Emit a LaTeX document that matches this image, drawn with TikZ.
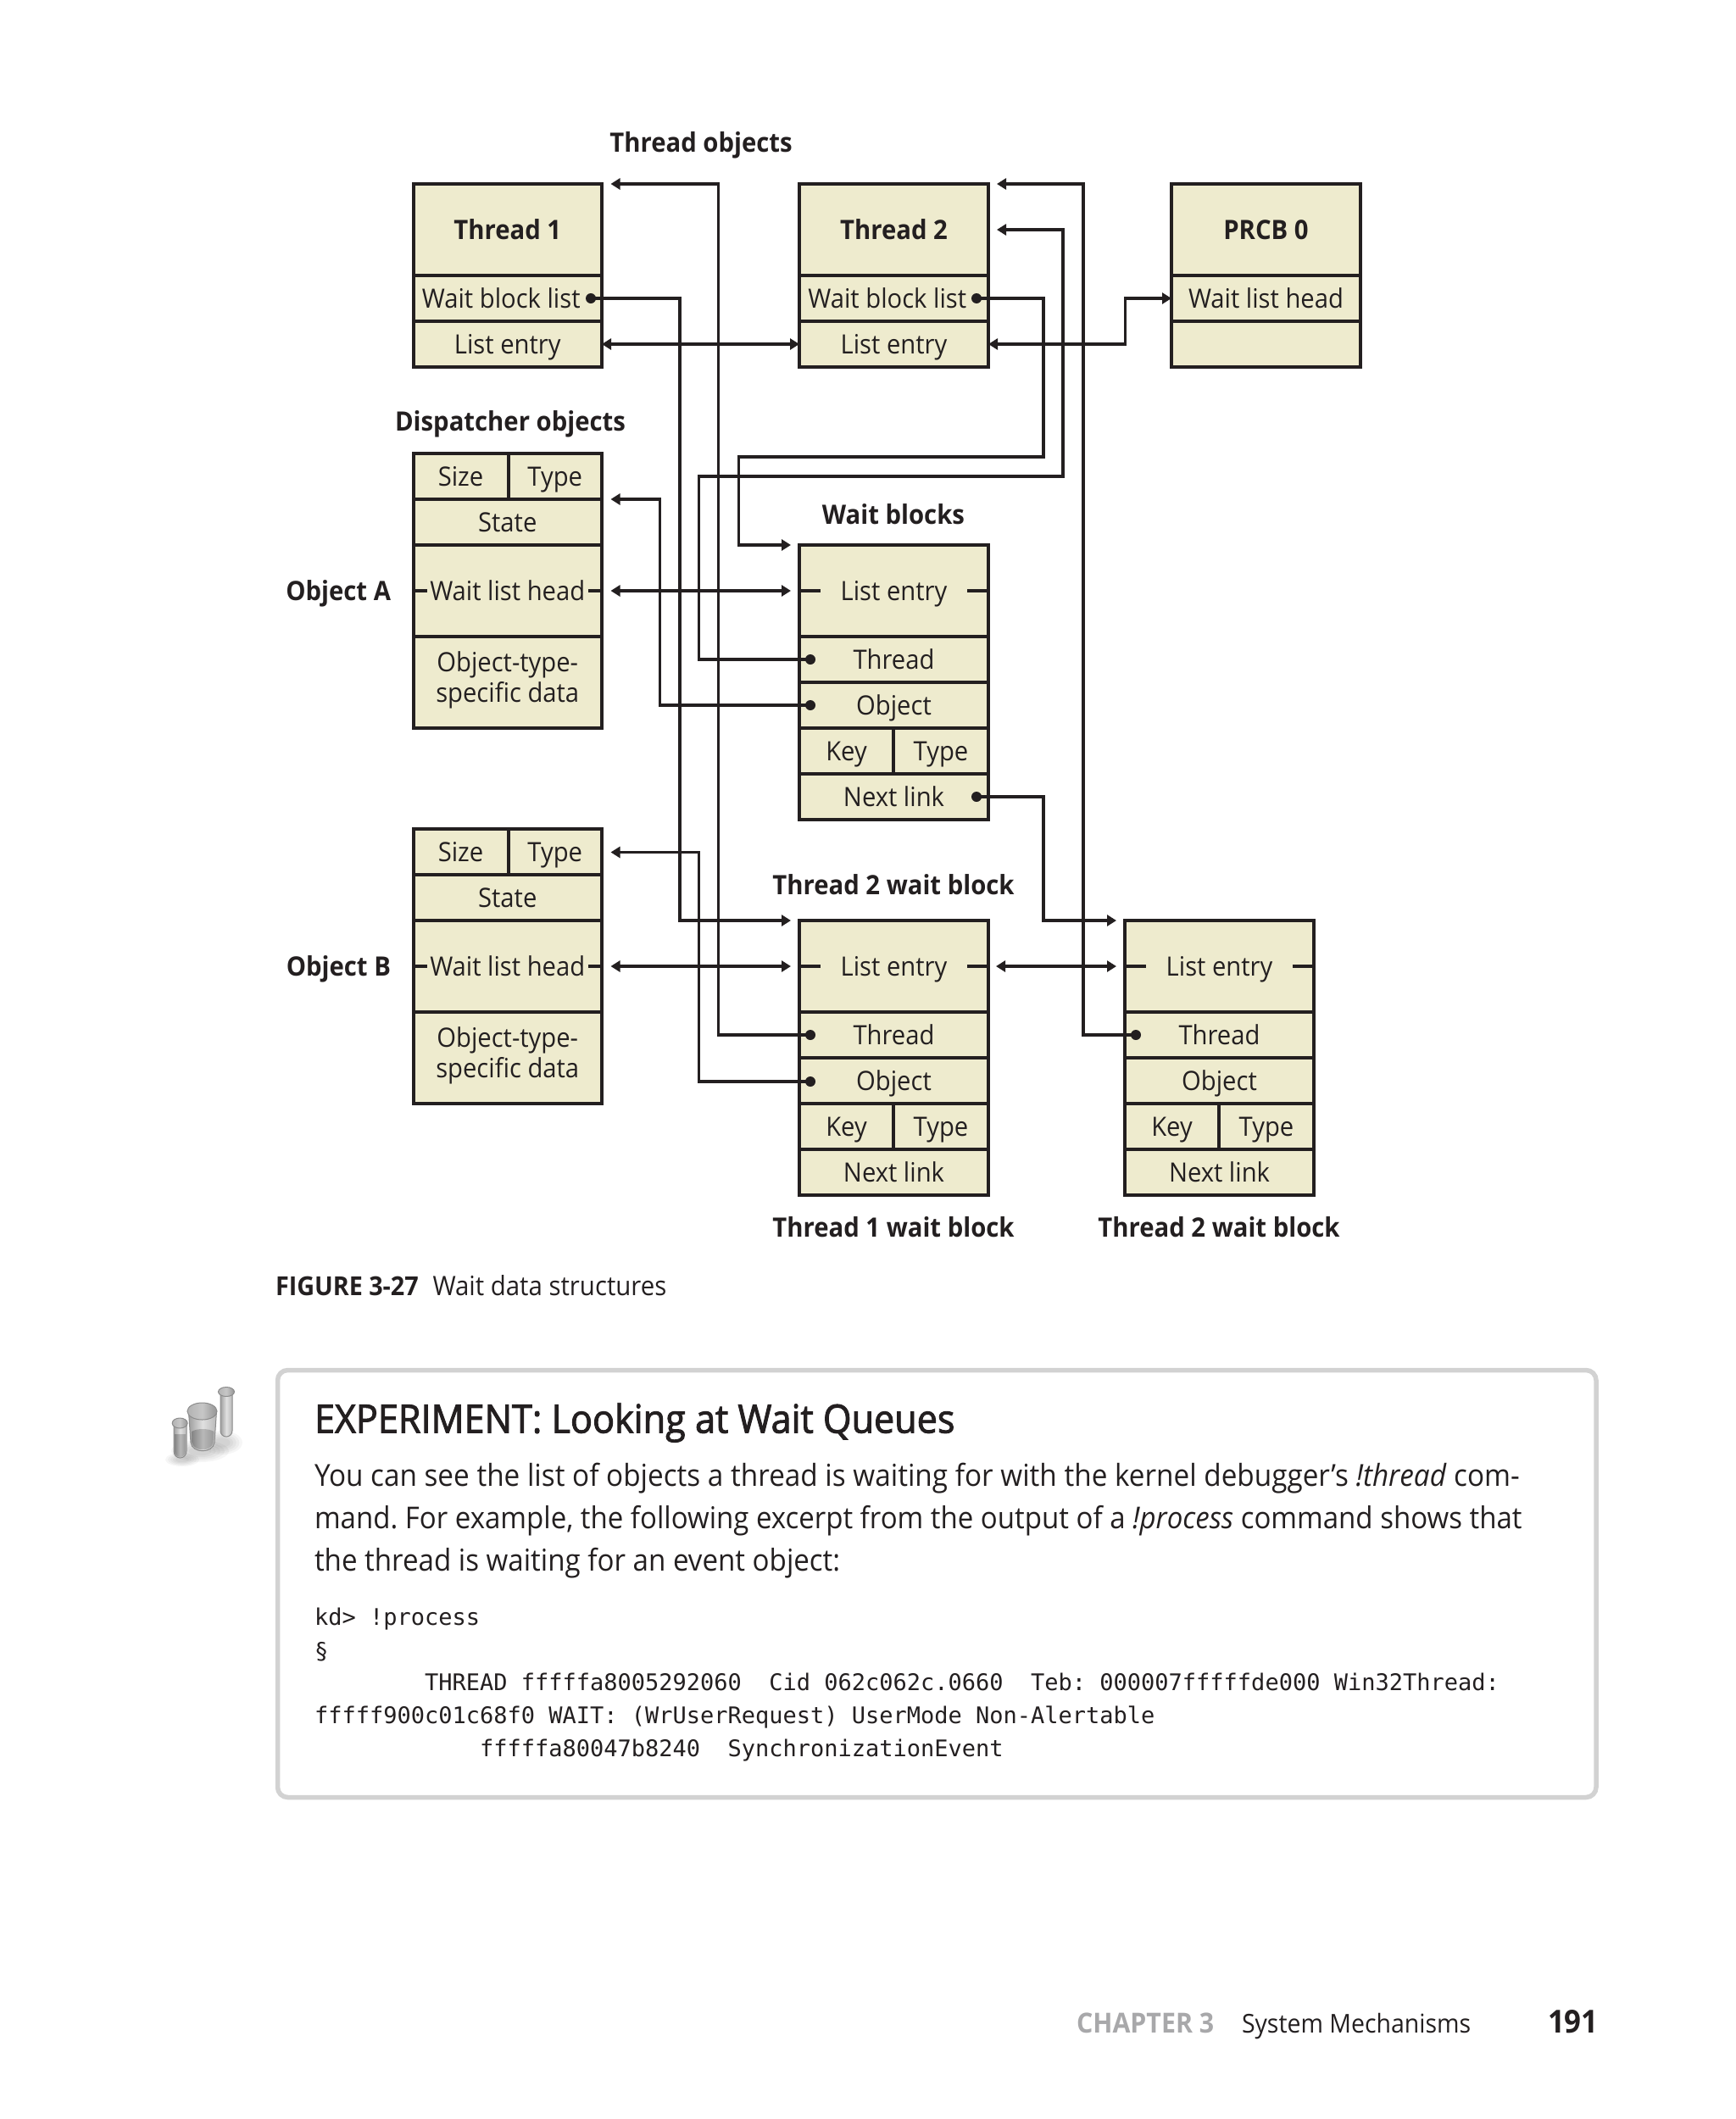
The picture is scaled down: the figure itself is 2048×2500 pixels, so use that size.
\documentclass[tikz,border=0pt]{standalone}
\usepackage{fontspec}
\setmainfont{Open Sans}[FakeStretch=0.93]
\newfontfamily\semifont{Open Sans}[FakeStretch=0.93,FakeBold=2]
\newfontfamily\codefont{DejaVu Sans Mono}
\usetikzlibrary{arrows.meta,calc}
\definecolor{ink}{HTML}{231F20}
\definecolor{cellfill}{HTML}{EEEBCE}
\definecolor{boxgray}{HTML}{D2D2D2}
\definecolor{footgray}{HTML}{A8A8AA}
\tikzset{
  x=0.5pt,y=-0.5pt,
  cellbox/.style={draw=ink,fill=cellfill,line width=2pt,inner sep=0pt,outer sep=0pt,text=ink,
    font=\fontsize{15.7}{18}\selectfont,text height=12.5pt,text depth=1.5pt,align=center},
  cellbold/.style={cellbox,font=\fontsize{15.75}{18}\selectfont\bfseries},
  twoline/.style={cellbox,text height=,text depth=6pt,font=\fontsize{15.7}{18}\selectfont},
  lbl/.style={text=ink,font=\fontsize{15.75}{18}\selectfont\bfseries,inner sep=0pt,outer sep=0pt,text height=12.5pt,text depth=1.5pt},
  plainlbl/.style={anchor=west,text=ink,font=\fontsize{15.7}{18}\selectfont,text height=12.5pt,text depth=1.5pt,inner sep=0pt},
  dotmark/.style={circle,fill=ink,inner sep=0pt,minimum size=6pt,outer sep=0pt},
  conn/.style={draw=ink,line width=1.75pt,line join=miter},
  head/.style={conn,-{Triangle[length=5.5pt,width=6.5pt]}},
  dbl/.style={conn,{Triangle[length=5.5pt,width=6.5pt]}-{Triangle[length=5.5pt,width=6.5pt]}},
  tick/.style={draw=ink,line width=1.75pt},
  txt/.style={text=ink,anchor=base west,inner sep=0pt,outer sep=0pt,execute at begin node=\frenchspacing},
  glass/.style={draw=black!45,line width=0.5pt,left color=black!38,right color=black!28,middle color=black!12},
  liquid/.style={left color=black!48,right color=black!40,middle color=black!28},
  rim/.style={draw=black!45,line width=0.5pt,left color=black!30,right color=black!42,middle color=black!22},
  shadowblob/.style={fill=black,opacity=0.035},
}
\newcommand{\cellat}[7][cellbox]{%
  \pgfmathsetmacro\cw{(#5-#3)*0.5}\pgfmathsetmacro\ch{(#6-#4)*0.5}%
  \node[#1,minimum width=\cw pt,minimum height=\ch pt] (#2) at ({(#3+#5)/2},{(#4+#6)/2}) {#7};}
\newcommand{\dispatcher}[3]{% name, x offset, y top
  \pgfmathsetmacro\ya{#3}\pgfmathsetmacro\yb{#3+54}\pgfmathsetmacro\yc{#3+108}\pgfmathsetmacro\yd{#3+216}\pgfmathsetmacro\ye{#3+324}%
  \cellat{#1size}{487.5}{\ya}{599.5}{\yb}{Size}
  \cellat{#1type}{599.5}{\ya}{710}{\yb}{Type}
  \cellat{#1state}{487.5}{\yb}{710}{\yc}{State}
  \cellat{#1wlh}{487.5}{\yc}{710}{\yd}{Wait list head}
  \cellat[twoline]{#1data}{487.5}{\yd}{710}{\ye}{Object-type-\\specific data}
  \draw[tick] (#1wlh.west) -- ++(16,0);
  \draw[tick] (#1wlh.east) -- ++(-16,0);
}
\newcommand{\waitblock}[3]{% name, x left, y top
  \pgfmathsetmacro\xl{#2}\pgfmathsetmacro\xm{#2+111}\pgfmathsetmacro\xr{#2+223}%
  \pgfmathsetmacro\ya{#3}\pgfmathsetmacro\yb{#3+108}\pgfmathsetmacro\yc{#3+162}\pgfmathsetmacro\yd{#3+216}\pgfmathsetmacro\ye{#3+270}\pgfmathsetmacro\yf{#3+324}%
  \cellat{#1le}{\xl}{\ya}{\xr}{\yb}{List entry}
  \cellat{#1thr}{\xl}{\yb}{\xr}{\yc}{Thread}
  \cellat{#1obj}{\xl}{\yc}{\xr}{\yd}{Object}
  \cellat{#1key}{\xl}{\yd}{\xm}{\ye}{Key}
  \cellat{#1typ}{\xm}{\yd}{\xr}{\ye}{Type}
  \cellat{#1nxt}{\xl}{\ye}{\xr}{\yf}{Next link}
  \draw[tick] (#1le.west) -- ++(25,0);
  \draw[tick] (#1le.east) -- ++(-25,0);
}
\begin{document}
\begin{tikzpicture}
\useasboundingbox (0,0) rectangle (2048,2500);
\fill[white] (0,0) rectangle (2048,2500);

% thread objects
\cellat[cellbold]{tonename}{487.5}{217}{710}{325}{Thread 1}
\cellat{tonewbl}{487.5}{325}{710}{379}{}
\cellat{tonele}{487.5}{379}{710}{433}{List entry}
\node[plainlbl] (tonewbltext) at (497.5,352) {Wait block list};
\cellat[cellbold]{ttwoname}{943}{217}{1166}{325}{Thread 2}
\cellat{ttwowbl}{943}{325}{1166}{379}{}
\cellat{ttwole}{943}{379}{1166}{433}{List entry}
\node[plainlbl] (ttwowbltext) at (953,352) {Wait block list};
\cellat[cellbold]{prcbname}{1382}{217}{1605}{325}{PRCB 0}
\cellat{prcbwlh}{1382}{325}{1605}{379}{Wait list head}
\cellat{prcbempty}{1382}{379}{1605}{433}{}

\dispatcher{oa}{0}{535}
\dispatcher{ob}{0}{978}
\waitblock{wa}{943}{643}
\waitblock{wb}{943}{1086}
\waitblock{wc}{1327}{1086}

% labels
\node[lbl] (lbthreads) at (827,168) {Thread objects};
\node[lbl] (lbdisp) at (602,497) {Dispatcher objects};
\node[lbl] (lbwait) at (1054,607) {Wait blocks};
\node[lbl,anchor=east] (lboa) at (461,697) {Object A};
\node[lbl,anchor=east] (lbob) at (461,1140) {Object B};
\node[lbl] (lbtw) at (1054,1044) {Thread 2 wait block};
\node[lbl] (lbw1) at (1054,1448) {Thread 1 wait block};
\node[lbl] (lbw2) at (1438,1448) {Thread 2 wait block};

% dots
\node[dotmark] (dtone) at (697,352) {};
\node[dotmark] (dttwo) at (1152,352) {};
\node[dotmark] (dwathr) at (956,778) {};
\node[dotmark] (dwaobj) at (956,832) {};
\node[dotmark] (dwanxt) at (1152,940) {};
\node[dotmark] (dwbthr) at (956,1221) {};
\node[dotmark] (dwbobj) at (956,1276) {};
\node[dotmark] (dwcthr) at (1340,1221) {};

% free ends
\coordinate (tipone) at (720.5,217);
\coordinate (tiptwotop) at (1176,217);
\coordinate (tiptwomid) at (1176,271);
\coordinate (tipoatype) at (720.5,589);
\coordinate (tipobtype) at (720.5,1005.5);
\coordinate (tipwatop) at (933,643);
\coordinate (tipwbtop) at (933,1086);
\coordinate (tipwctop) at (1317,1086);
\coordinate (tipoawlh) at (720.5,697);
\coordinate (tipwale) at (933,697);
\coordinate (tipobwlh) at (720.5,1140);
\coordinate (tipwble) at (933,1140);
\coordinate (tipwbler) at (1175,1140);
\coordinate (tipwcle) at (1317,1140);
% bends
\coordinate (laneone) at (802,700);
\coordinate (lanetwo) at (847.5,700);
\coordinate (lanethree) at (1278,700);
\coordinate (lanefour) at (1231,539);
\coordinate (lanefive) at (871.5,643);
\coordinate (lanesix) at (824.5,562);
\coordinate (laneseven) at (1254,271);
\coordinate (laneeight) at (778.5,700);
\coordinate (lanenine) at (824.5,1100);
\coordinate (laneten) at (1231,1000);
\coordinate (laneeleven) at (1327.5,400);

% connectors
\draw[head] (dtone.center) -| (laneone) |- (tipwbtop);
\draw[head] (dwbthr.center) -| (lanetwo) |- (tipone);
\draw[head] (dwcthr.center) -| (lanethree) |- (tiptwotop);
\draw[head] (dttwo.center) -| (lanefour) -| (lanefive) -- (tipwatop);
\draw[head] (dwathr.center) -| (lanesix) -| (laneseven) -- (tiptwomid);
\draw[head] (dwaobj.center) -| (laneeight) |- (tipoatype);
\draw[head] (dwbobj.center) -| (lanenine) |- (tipobtype);
\draw[head] (dwanxt.center) -| (laneten) |- (tipwctop);
\draw[dbl] (tonele.east) -- (ttwole.west);
\draw[dbl] (ttwole.east) -| (laneeleven) |- (prcbwlh.west);
\draw[dbl] (tipoawlh) -- (tipwale);
\draw[dbl] (tipobwlh) -- (tipwble);
\draw[dbl] (tipwbler) -- (tipwcle);

% caption
\node[txt,font=\fontsize{15.45}{18}\selectfont\bfseries] (capa) at (325,1528.5) {FIGURE 3-27};
\node[txt,font=\fontsize{15.8}{18}\selectfont] (capb) at (510.5,1528.5) {Wait data structures};

% experiment box
\draw[draw=boxgray,line width=2.75pt,rounded corners=6pt] (327.5,1616.5) rectangle (1883,2120.5);
\node[txt,font=\fontsize{23.2}{26}\selectfont\semifont] (exhead) at (371,1690.5) {EXPERIMENT: Looking at Wait Queues};
\node[txt,font=\fontsize{17.9}{25}\selectfont] (exa) at (371,1753) {You can see the list of objects a thread is waiting for with the kernel debugger’s \textit{!thread} com-};
\node[txt,font=\fontsize{17.75}{25}\selectfont] (exb) at (371,1803) {mand. For example, the following excerpt from the output of a \textit{!process} command shows that};
\node[txt,font=\fontsize{17.8}{25}\selectfont] (exc) at (371,1853) {the thread is waiting for an event object:};
\tikzset{codeline/.style={txt,font=\fontsize{13.5}{16}\selectfont\codefont}}
\node[codeline] (cda) at (371,1917) {kd> !process};
\node[codeline] (cdb) at (371,1957) {§};
\node[codeline] (cdc) at (501,1994.5) {THREAD fffffa8005292060\ \ Cid 062c062c.0660\ \ Teb: 000007fffffde000 Win32Thread:};
\node[codeline] (cdd) at (371,2033.5) {fffff900c01c68f0 WAIT: (WrUserRequest) UserMode Non-Alertable};
\node[codeline] (cde) at (566,2072.5) {fffffa80047b8240\ \ SynchronizationEvent};

% icon
\foreach \s in {1,0.85,0.7,0.55,0.4} {
  \fill[shadowblob] (236,1712) ellipse[x radius=34*\s,y radius=13*\s];
  \fill[shadowblob] (262,1702) ellipse[x radius=24*\s,y radius=14*\s];
  \fill[shadowblob] (215,1722) ellipse[x radius=20*\s,y radius=8*\s];
}
\path[glass] (205,1679) -- (205,1712) arc[start angle=180,end angle=0,x radius=7.5,y radius=8] -- (220,1679) -- cycle;
\path[liquid] (206,1692) -- (206,1712) arc[start angle=180,end angle=0,x radius=6.5,y radius=7] -- (219,1692) -- cycle;
\path[rim] (212.2,1679) ellipse[x radius=9,y radius=6];
\path[glass] (222.5,1665) -- (225,1702) .. controls (227,1715) and (251,1715) .. (253,1702) -- (255.5,1665) -- cycle;
\path[liquid] (226,1689) -- (226.5,1702) .. controls (228,1713) and (250,1713) .. (251.5,1702) -- (252.5,1689) .. controls (246,1685) and (232,1685) .. (226,1689) -- cycle;
\path[rim] (238.5,1665) ellipse[x radius=17.5,y radius=10];
\path[glass] (260,1642) -- (260,1688) arc[start angle=180,end angle=0,x radius=7,y radius=7] -- (274,1642) -- cycle;
\path[rim] (267,1642) ellipse[x radius=9.5,y radius=5.5];

% footer
\node[txt,font=\fontsize{16.3}{18}\selectfont\bfseries,text=footgray] (fta) at (1270,2398) {CHAPTER 3};
\node[txt,font=\fontsize{15.3}{18}\selectfont] (ftb) at (1465,2398) {System Mechanisms};
\node[txt,font=\fontsize{18.7}{18}\selectfont\bfseries] (ftc) at (1826,2398) {191};
\end{tikzpicture}
\end{document}
